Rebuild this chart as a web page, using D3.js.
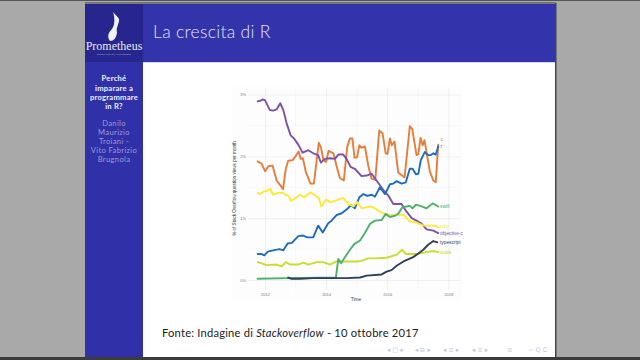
<!DOCTYPE html>
<html><head><meta charset="utf-8">
<script src="https://cdn.jsdelivr.net/npm/d3@7"></script>
<style>html,body{margin:0;padding:0;background:#a9a9a9;overflow:hidden}svg{display:block}</style>
</head><body><svg id="c" width="640" height="360"></svg>
<script>
const cT=[2011.76,2011.89,2012,2012.11,2012.25,2012.38,2012.49,2012.59,2012.68,2012.76,2012.91,2013.01,2013.10,2013.17,2013.24,2013.34,2013.49,2013.60,2013.76,2013.83,2013.91,2014,2014.08,2014.24,2014.34,2014.45,2014.58,2014.69,2014.78,2014.86,2014.93,2015.01,2015.09,2015.15,2015.27,2015.38,2015.49,2015.61,2015.74,2015.85,2015.95,2016.01,2016.09,2016.15,2016.24,2016.36,2016.57,2016.74,2016.82,2016.96,2017.02,2017.09,2017.16,2017.22,2017.40,2017.51,2017.59,2017.67];
const cV=[1.92,1.88,1.76,1.84,1.85,1.61,1.54,1.47,1.80,1.93,1.94,2.01,2.08,1.96,1.97,1.74,1.56,1.56,2.22,2.15,1.95,1.91,2.09,2.05,1.85,1.65,1.61,2.15,2.29,2.29,1.98,1.98,2.18,2.14,2.16,1.85,1.64,1.62,2.42,2.37,2.05,2.04,2.29,2.18,2.24,1.74,1.66,2.49,2.44,2.02,2.04,2.30,2.18,2.26,1.75,1.61,1.58,2.19];
const objcT=[2011.76,2011.84,2011.92,2012,2012.08,2012.16,2012.27,2012.38,2012.50,2012.60,2012.71,2012.84,2012.95,2013.09,2013.23,2013.42,2013.58,2013.74,2013.83,2013.96,2014.13,2014.29,2014.40,2014.56,2014.67,2014.80,2014.94,2015.16,2015.33,2015.49,2015.65,2015.87,2016.03,2016.20,2016.47,2016.63,2016.80,2016.96,2017.13,2017.29,2017.51,2017.67];
const objcV=[2.89,2.90,2.92,2.91,2.83,2.75,2.74,2.76,2.86,2.75,2.53,2.34,2.29,2.19,2.06,2.10,2.05,2.02,1.90,1.96,1.97,1.96,2.03,2.03,1.96,1.83,1.80,1.68,1.69,1.72,1.61,1.46,1.37,1.23,1.23,1.11,1.00,0.96,0.91,0.82,0.80,0.76];
const rT=[2011.76,2011.89,2011.98,2012.09,2012.27,2012.47,2012.60,2012.74,2012.88,2013.09,2013.25,2013.38,2013.58,2013.74,2013.89,2014.07,2014.18,2014.34,2014.51,2014.67,2014.81,2014.94,2015.09,2015.22,2015.35,2015.49,2015.60,2015.76,2015.93,2016.09,2016.20,2016.31,2016.47,2016.61,2016.74,2016.83,2016.94,2017.02,2017.10,2017.23,2017.34,2017.42,2017.51,2017.59,2017.67];
const rV=[0.42,0.42,0.40,0.46,0.48,0.50,0.48,0.59,0.60,0.71,0.72,0.69,0.69,0.88,0.77,0.92,0.96,1.05,1.08,1.14,1.21,1.16,1.34,1.39,1.36,1.38,1.35,1.50,1.39,1.55,1.56,1.60,1.56,1.58,1.80,1.80,1.71,1.72,1.94,2.07,2.02,2.02,2.05,2.03,2.16];
const rubyT=[2011.76,2011.84,2011.95,2012.05,2012.16,2012.27,2012.44,2012.60,2012.69,2012.76,2012.85,2012.98,2013.15,2013.28,2013.49,2013.64,2013.77,2013.84,2014,2014.13,2014.29,2014.56,2014.73,2014.89,2015.02,2015.16,2015.33,2015.49,2015.65,2015.85,2016.09,2016.31,2016.53,2016.74,2016.96,2017.18,2017.40,2017.56,2017.67];
const rubyV=[1.41,1.39,1.43,1.44,1.48,1.38,1.41,1.41,1.37,1.37,1.28,1.32,1.38,1.34,1.42,1.37,1.32,1.19,1.30,1.26,1.28,1.33,1.23,1.19,1.26,1.16,1.18,1.19,1.14,1.08,1.05,1.05,1.06,0.95,0.93,0.88,0.88,0.88,0.85];
const scalaT=[2011.76,2011.89,2012.05,2012.38,2012.55,2012.68,2012.82,2013.09,2013.25,2013.42,2013.69,2013.91,2014.13,2014.34,2014.62,2015,2015.16,2015.38,2015.54,2015.98,2016.31,2016.49,2016.61,2016.96,2017.29,2017.51,2017.67];
const scalaV=[0.29,0.27,0.24,0.25,0.22,0.29,0.25,0.25,0.28,0.25,0.29,0.29,0.25,0.30,0.30,0.30,0.31,0.35,0.35,0.36,0.41,0.49,0.42,0.42,0.45,0.47,0.45];
const swiftT=[2011.76,2012.76,2014.32,2014.40,2014.49,2014.58,2014.67,2014.78,2014.92,2015.11,2015.27,2015.44,2015.60,2015.82,2015.95,2016.09,2016.25,2016.36,2016.50,2016.63,2016.74,2016.83,2016.94,2017.13,2017.29,2017.49,2017.67];
const swiftV=[0.02,0.03,0.04,0.34,0.27,0.34,0.41,0.49,0.58,0.64,0.76,0.91,0.96,0.97,1.07,1.02,1.04,1.07,1.18,1.19,1.20,1.16,1.22,1.19,1.16,1.24,1.19];
const tsT=[2012.76,2012.87,2013.15,2013.58,2014.34,2014.67,2015.11,2015.33,2015.82,2015.98,2016.14,2016.31,2016.53,2016.85,2017.02,2017.18,2017.34,2017.51,2017.64];
const tsV=[0.04,0.02,0.02,0.03,0.03,0.03,0.04,0.07,0.09,0.135,0.16,0.23,0.30,0.37,0.43,0.49,0.57,0.63,0.61];
const seriesNames=["c","objective-c","r","ruby","scala","swift","typescript"];
const seriesTimes=[cT,objcT,rT,rubyT,scalaT,swiftT,tsT];
const seriesValues=[cV,objcV,rV,rubyV,scalaV,swiftV,tsV];
const seriesColors=["#e87d3a","#7d52a8","#1f6cc0","#fde938","#c8dd2e","#4fb06e","#2e3f5f"];
const labelValues=[2.27,0.76,2.16,0.87,0.45,1.19,0.61];
const xTicks=[2012,2014,2016,2018];
const yTicks=[0,1,2,3];
const sideTitle=["Perché","imparare a","programmare","in R?"];
const sideAuthors=["Danilo","Maurizio","Troiani -","Vito Fabrizio","Brugnola"];
const navGroups=["◂ □ ▸","◂ ⧉ ▸","◂ ≡ ▸","◂ ≡ ▸","≡","∽ Q C"];
const navStarts=[387,415,443,472,507,528];

const svg=d3.select("#c");
svg.append("defs").append("filter").attr("id","soft").append("feGaussianBlur").attr("stdDeviation",0.3);
const rect=(x,y,w,h,f)=>svg.append("rect").attr("x",x).attr("y",y).attr("width",w).attr("height",h).attr("fill",f);
rect(0,0,640,360,"#a9a9a9");
rect(0,0,640,1,"#555");
rect(85,2,471,2,"#777");
rect(85,4,470,353,"#ffffff");
rect(555,3,1.5,355,"#444");
rect(0,357,640,3,"#3c3c3c");
rect(85,4,470,58,"#3333ab");
rect(85,62,58,295,"#3030a8");
rect(85,4,58,58,"#26268e");
rect(143,62,412,1,"#d8d8ee");

const sans="Lato, 'Open Sans', sans-serif";
svg.append("text").attr("x",153).attr("y",37.5).attr("fill","#e4e4f6").attr("font-family",sans).attr("font-weight",300).attr("font-size",17.5).attr("letter-spacing",0.3).text("La crescita di R");
svg.append("text").attr("x",114).attr("y",50).attr("text-anchor","middle").attr("fill","#e8e8f4").attr("font-family","'Liberation Serif',serif").attr("font-size",12).text("Prometheus");
svg.append("text").attr("x",114).attr("y",55).attr("text-anchor","middle").attr("fill","#a8a8d8").attr("font-family",sans).attr("font-size",2.6).text("istituto nato per la formazione");
// logo flame
svg.append("path").attr("d","M113 12C117 17 120 18 119 21C118 26 116 28 117 33C116 38 114 41 110 41C107 37 108 33 112 29C115 25 115 18 113 12Z").attr("fill","#f2f2f8");

svg.append("g").selectAll("text").data(sideTitle).join("text").attr("x",114).attr("y",(d,i)=>[81,90.5,100,109][i]).attr("text-anchor","middle").attr("fill","#f0f0fa").attr("font-family",sans).attr("font-weight",700).attr("font-size",7.6).attr("letter-spacing",0.25).text(d=>d);
svg.append("g").selectAll("text").data(sideAuthors).join("text").attr("x",114).attr("y",(d,i)=>125.5+i*9).attr("text-anchor","middle").attr("fill","#9c9cd4").attr("font-family",sans).attr("font-size",7.6).attr("letter-spacing",0.35).text(d=>d);

// chart
rect(232,86,230,214,"#fdfdfd");
const x=d3.scaleLinear().domain([2012,2018]).range([265,448.3]);
const y=d3.scaleLinear().domain([0,3]).range([280,94.6]);
const L=248,R=460,T=88,B=290;
const g=svg.append("g");
const minorX=[2013,2015,2017], minorY=[0.5,1.5,2.5];
g.append("g").selectAll("line").data(minorX).join("line").attr("x1",d=>x(d)).attr("x2",d=>x(d)).attr("y1",T).attr("y2",B).attr("stroke","#f3f3f3").attr("stroke-width",0.6);
g.append("g").selectAll("line").data(minorY).join("line").attr("x1",L).attr("x2",R).attr("y1",d=>y(d)).attr("y2",d=>y(d)).attr("stroke","#f3f3f3").attr("stroke-width",0.6);

const ax=g.append("g").attr("transform",`translate(0,${B})`).call(d3.axisBottom(x).tickValues(xTicks).tickFormat(d3.format("d")).tickSize(-(B-T)).tickPadding(3));
const ay=g.append("g").attr("transform",`translate(${L},0)`).call(d3.axisLeft(y).tickValues(yTicks).tickFormat(d=>d+"%").tickSize(-(R-L)).tickPadding(2));
[ax,ay].forEach(a=>{a.select(".domain").remove();a.selectAll("line").attr("stroke","#ececec").attr("stroke-width",0.8);a.selectAll("text").attr("fill","#777").attr("font-size",4).attr("font-family","'Liberation Sans',sans-serif");});

const line=d3.line().x(d=>x(d[0])).y(d=>y(d[1]));
const marks=g.append("g").attr("filter","url(#soft)");
seriesNames.forEach((n,i)=>{
  marks.append("path").datum(d3.zip(seriesTimes[i],seriesValues[i])).attr("d",line).attr("fill","none").attr("stroke",seriesColors[i]).attr("stroke-width",1.9).attr("stroke-linejoin","round").attr("stroke-linecap","round");
});
g.append("g").selectAll("text").data(seriesNames).join("text").attr("x",(d,i)=>i==0||i==2?440.5:440).attr("y",(d,i)=>y(labelValues[i])+1.5).attr("fill",(d,i)=>seriesColors[i]).attr("font-size",4.8).attr("font-family","'Liberation Sans',sans-serif").text(d=>d);

svg.append("text").attr("transform","translate(235.5,188.5) rotate(-90)").attr("text-anchor","middle").attr("fill","#333").attr("font-family","'Liberation Sans',sans-serif").attr("font-size",4.6).text("% of Stack Overflow question views per month");
svg.append("text").attr("x",356).attr("y",300.5).attr("text-anchor","middle").attr("fill","#444").attr("font-family","'Liberation Sans',sans-serif").attr("font-size",4.8).text("Time");

// footer
const f=svg.append("text").attr("x",162).attr("y",336.5).attr("fill","#222").attr("font-family",sans).attr("font-size",11.2).attr("letter-spacing",0.2);
f.append("tspan").text("Fonte: Indagine di ");
f.append("tspan").attr("font-style","italic").text("Stackoverflow");
f.append("tspan").text(" - 10 ottobre 2017");
svg.append("g").selectAll("text").data(navGroups).join("text").attr("x",(d,i)=>navStarts[i]).attr("y",352).attr("fill","#c0c3dc").attr("font-family","'DejaVu Sans',sans-serif").attr("font-size",6.5).text(d=>d);
</script></body></html>
